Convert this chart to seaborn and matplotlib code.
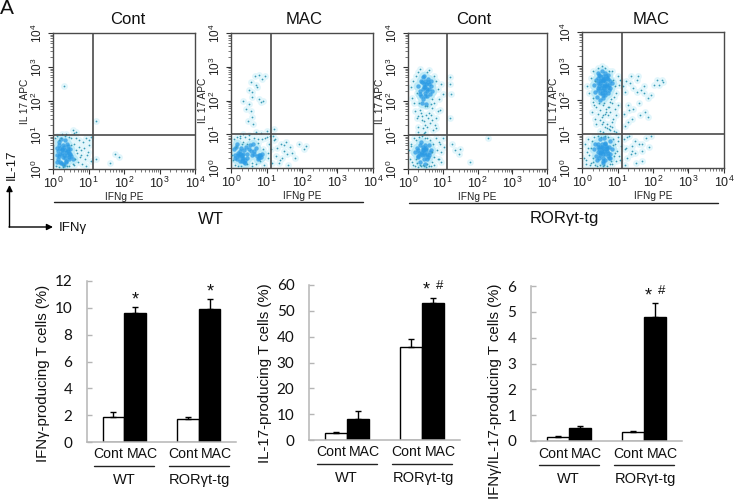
import numpy as np
import pandas as pd
import matplotlib
matplotlib.use("Agg")
import matplotlib.pyplot as plt
import seaborn as sns
from matplotlib.ticker import LogLocator, NullFormatter, FixedLocator, FixedFormatter

sns.set_theme(style="white")
plt.rcParams['font.family'] = ['Liberation Sans', 'DejaVu Sans']
plt.rcParams['mathtext.fontset'] = 'custom'
plt.rcParams['mathtext.rm'] = 'Liberation Sans'
plt.rcParams['mathtext.default'] = 'regular'

# ---- bar data ----
groups = ["WT", "RORγt-tg"]
treatments = ["Cont", "MAC"]
ifng_means = [1.85, 9.6, 1.7, 9.9]
ifng_errs = [0.35, 0.45, 0.15, 0.75]
il17_means = [2.8, 8.2, 36, 53]
il17_errs = [0.4, 3.2, 3, 2]
dual_means = [0.17, 0.52, 0.35, 4.8]
dual_errs = [0.04, 0.08, 0.05, 0.55]
ifng_ticks = [0, 2, 4, 6, 8, 10, 12]
il17_ticks = [0, 10, 20, 30, 40, 50, 60]
dual_ticks = [0, 1, 2, 3, 4, 5, 6]

# ---- flow data, in log10 decades ----
p1_core_x = [.10,.14,.18,.22,.26,.30,.34,.38,.42,.46,
             .12,.16,.20,.24,.28,.32,.36,.40,.44,.48,
             .11,.15,.19,.23,.27,.31,.35,.39,.43,.52,
             .17,.21,.25,.29,.33,.37,.41,.45,.49,.56]
p1_core_y = [.62,.30,.78,.18,.55,.40,.85,.25,.68,.48,
             .42,.70,.22,.60,.35,.12,.50,.75,.30,.58,
             .20,.52,.45,.88,.15,.65,.32,.42,.52,.38,
             .38,.62,.48,.72,.56,.20,.60,.36,.44,.28]
p1_dots_x = [.05,.08,.12,.16,.22,.28,.34,.40,.46,.52,
             .58,.62,.66,.70,.74,.78,.82,.86,.90,.94,
             .98,1.02,1.06,1.08,.60,.64,.72,.76,.84,.92,
             .55,.50,.44,.36,.30,.18,.68,.80,.96,1.00,
             .30,1.22,1.22,1.75,1.85,1.60,.55,.60,.25,.65]
p1_dots_y = [.90,.08,.96,.05,.92,.06,.98,.10,.08,.90,
             .75,.30,.55,.20,.85,.42,.15,.62,.30,.90,
             .50,.70,.25,.95,.12,.92,.65,.35,.80,.10,
             .15,.70,.95,1.03,.12,.85,.48,.55,.40,.85,
             2.45,1.40,.30,.45,.35,.18,1.15,1.05,1.02,1.10]

p2_core_x = [.08,.12,.16,.20,.24,.28,.32,.36,.40,.44,
             .10,.14,.18,.22,.26,.30,.34,.38,.42,.46,
             .50,.54,.58,.62,.66,.70,.74,.78,.82,.86,
             .30,.35,.40,.25,.20,.75,.80,.85,.55,.65]
p2_core_y = [.55,.30,.70,.45,.20,.60,.30,.52,.16,.42,
             .40,.62,.28,.35,.50,.22,.42,.18,.62,.30,
             .55,.68,.40,.72,.50,.60,.35,.30,.38,.42,
             .40,.30,.25,.42,.38,.28,.40,.32,.50,.42]
p2_dots_x = [.03,.05,.08,.12,.16,.20,.24,.28,.34,.40,
             .46,.52,.58,.64,.70,.76,.82,.88,.94,1.00,
             1.04,1.08,1.12,1.16,1.20,.15,.30,.45,.60,.75,
             .90,1.05,.25,.50,.95,1.10,.70,1.02,.35,.85,
             1.25,1.30,1.35,1.40,1.45,1.50,1.55,1.60,1.65,1.72,
             1.28,1.38,1.48,1.58,1.80,1.92,2.05,2.12,1.18,1.22,
             .55,.60,.68,.72,.80,.88,.58,.50,.35,.42,
             .52,.55,.62,.60,.85,.95,.78,.70,.48,.90]
p2_dots_y = [.40,.25,.85,.10,.92,.07,.88,.05,.78,.93,
             .12,.85,.05,.90,.12,.75,.20,.85,.08,.92,
             .30,.70,.55,.15,.82,.62,.70,.72,.15,.85,
             .55,.45,.96,.98,.90,.95,1.08,1.10,1.02,1.05,
             .85,.60,.15,.70,.30,.50,.78,.10,.62,.45,
             .35,.25,.68,.42,.30,.72,.55,.65,.95,1.15,
             2.55,2.25,2.72,2.40,2.75,2.65,2.10,1.90,2.00,1.75,
             2.30,1.70,1.30,1.50,1.95,2.72,2.05,2.45,1.40,2.00]

p3_core_x = [.20,.25,.30,.35,.40,.45,.50,.55,.60,.65,
             .28,.33,.38,.43,.48,.53,.58,.63,.35,.42,
             .46,.52,.40,.50,.56,.30,.36,.44,.60,.48,
             .30,.35,.40,.45,.50,.55,.60,.65,.70,.38,
             .42,.48,.52,.58,.62,.44,.50,.56,.36,.46,
             .54,.40,.60,.47,.52,.43,.57,.34,.49,.66]
p3_core_y = [.50,.62,.38,.70,.50,.28,.60,.45,.72,.55,
             .35,.48,.80,.55,.42,.62,.35,.50,.20,.65,
             .48,.55,.40,.72,.30,.55,.45,.60,.42,.15,
             2.45,2.30,2.55,2.40,2.60,2.35,2.50,2.45,2.30,2.15,
             2.70,2.25,2.50,2.65,2.20,2.05,2.40,2.15,2.60,2.50,
             2.30,1.95,2.35,2.75,1.90,2.35,2.55,2.20,2.15,2.60]
p3_dots_x = [.04,.08,.12,.16,.20,.24,.28,.32,.36,.40,
             .44,.48,.52,.56,.60,.64,.68,.72,.76,.80,
             .84,.88,.92,.96,1.00,1.04,.06,.15,.25,.35,
             .45,.55,.65,.75,.85,.95,.10,.22,.70,.90,
             .08,.12,.15,.18,.22,.26,.30,.85,.80,.75,
             .90,.95,1.00,.25,.35,.45,.55,.65,.75,.85,
             .30,.40,.50,.60,.70,.80,.32,.42,.52,.62,
             .72,.82,.20,.28,.38,.48,.58,.68,.78,.92,
             .35,.45,.55,.65,.50,.60,.40,.70,.30,.55,
             1.20,1.22,1.25,1.35,1.50,1.48,1.78,2.30,1.22,1.28]
p3_dots_y = [.55,.75,.20,.92,.10,.85,.05,.95,.08,.96,
             .12,.90,.05,.92,.10,.85,.20,.75,.35,.92,
             .55,.28,.75,.50,.92,.65,.30,.12,.18,.12,
             .08,.15,.10,.12,.30,.20,.68,.30,.50,.80,
             2.40,2.10,2.60,1.95,2.75,2.25,2.85,2.35,2.60,2.75,
             2.05,2.50,2.20,1.50,1.75,1.40,1.85,1.60,1.95,1.70,
             1.25,1.55,1.30,1.65,1.45,1.20,1.95,1.20,1.60,1.35,
             1.15,1.50,1.70,1.10,1.65,1.85,1.50,1.80,1.30,1.75,
             2.95,1.05,1.25,1.90,1.10,2.90,1.45,2.05,1.55,2.85,
             2.70,2.50,2.20,.55,.60,.45,.22,.90,1.50,.75]

p4_core_x = [.35,.40,.45,.50,.55,.60,.65,.70,.75,.80,
             .42,.48,.52,.58,.62,.68,.72,.78,.85,.38,
             .55,.60,.50,.65,.58,.62,.70,.45,.75,.52,
             .56,.64,.48,.68,.54,.66,.60,.72,.44,.80,
             .35,.40,.45,.50,.55,.60,.65,.70,.75,.80,
             .38,.44,.48,.54,.58,.64,.68,.74,.78,.84,
             .42,.46,.52,.56,.62,.66,.72,.76,.60,.50,
             .55,.65,.58,.62,.48,.70,.52,.68,.74,.44,
             .56,.60,.64,.54,.66,.50,.72,.58,.62,.46]
p4_core_y = [.55,.35,.70,.45,.62,.30,.75,.50,.62,.40,
             .25,.55,.85,.20,.50,.65,.35,.80,.55,.72,
             .50,.60,.38,.42,.15,.88,.58,.48,.28,.62,
             .72,.25,.30,.55,.48,.70,.40,.45,.62,.30,
             2.45,2.60,2.30,2.70,2.45,2.55,2.30,2.65,2.45,2.35,
             2.25,2.50,2.75,2.35,2.60,2.80,2.40,2.20,2.55,2.50,
             2.10,2.65,2.50,2.20,2.35,2.55,2.75,2.30,2.05,2.00,
             2.85,2.15,2.62,2.42,2.42,2.48,2.55,2.70,2.62,2.35,
             2.30,2.70,2.45,2.58,2.25,2.20,2.38,2.15,2.62,2.80]
p4_dots_x = [.05,.08,.10,.14,.18,.22,.26,.30,.34,.38,
             .42,.46,.50,.54,.58,.62,.66,.70,.74,.78,
             .82,.86,.90,.94,.98,1.02,1.06,1.10,.12,.16,
             .20,.24,.28,.32,.85,.88,.92,.96,1.00,1.05,
             .15,.20,.25,.30,.32,.35,.38,.85,.88,.92,
             .96,1.00,1.04,1.08,.28,.32,.36,.40,.44,.48,
             .52,.56,.60,.64,.68,.72,.76,.80,.84,.88,
             .92,.96,1.00,.40,.50,.60,.70,.80,.45,.55,
             .65,.75,.85,.58,.68,.78,.90,.72,.62,.82,
             .50,.60,.70,.80,.90,.55,.65,.75,.85,.95,
             1.15,1.18,1.20,1.22,1.25,1.28,1.30,1.35,1.40,1.45,
             1.50,1.55,1.60,1.65,1.70,1.75,1.80,1.85,1.90,1.95,
             2.02,2.10,2.25,2.28,1.18,1.22,1.28,1.32,1.38,1.45,
             1.52,1.60,1.75,1.95,2.18,1.20,1.25,1.32,1.40,1.48,
             1.55,1.62,1.70,1.78,1.85,1.30,1.42,1.58,1.68,1.38]
p4_dots_y = [.30,.72,.12,.48,.85,.08,.60,.18,.92,.10,
             .05,.95,.08,.92,.05,.10,.95,.05,.92,.12,
             .20,.85,.35,.70,.50,.90,.25,.65,.25,.60,
             .38,.15,.80,.30,.12,.68,.45,.20,.80,.35,
             2.40,2.20,2.65,2.05,2.85,1.85,2.55,2.85,2.60,2.40,
             2.20,2.70,2.45,2.60,1.65,1.95,1.45,1.80,1.60,1.90,
             1.70,1.50,1.85,1.60,1.75,1.55,1.80,1.65,1.90,1.45,
             1.75,1.55,1.85,1.30,1.40,1.35,1.30,1.25,2.95,3.00,
             2.95,2.85,1.35,1.55,1.65,1.95,2.10,1.80,1.92,2.02,
             1.10,1.05,1.18,1.12,1.08,1.30,1.22,1.15,1.20,1.05,
             2.40,.85,2.25,.55,2.55,.30,1.85,2.50,.65,2.35,
             .45,2.60,.72,2.30,.20,2.42,.88,1.50,.62,2.15,
             2.45,2.58,2.60,2.52,1.60,1.25,.92,1.70,.40,1.75,
             .15,1.90,2.20,.95,2.45,.10,.60,.95,1.45,.78,
             2.25,1.55,.50,1.65,2.05,1.35,.50,2.70,.70,2.72]

flow_titles = ["Cont", "MAC", "Cont", "MAC"]
gate_x = [1.13, 1.13, 1.12, 1.13]
gate_y = [1.0, 1.01, 1.01, 1.01]

W, H = 735, 499
fig = plt.figure(figsize=(W / 100, H / 100), dpi=100, facecolor="white")


def add_ax(x0, y0, x1, y1):
    return fig.add_axes([x0 / W, 1 - y1 / H, (x1 - x0) / W, (y1 - y0) / H])


def ftext(x, y, s, **kw):
    kw.setdefault("ha", "center")
    kw.setdefault("va", "center")
    kw.setdefault("color", "#111111")
    return fig.text(x / W, 1 - y / H, s, **kw)


def fline(x0, y0, x1, y1, **kw):
    fig.add_artist(plt.Line2D([x0 / W, x1 / W], [1 - y0 / H, 1 - y1 / H], transform=fig.transFigure, **kw))


flow_boxes = [(53, 33, 195, 169), (231, 33, 373, 168), (408, 33, 547, 169), (582, 32, 724, 168)]
flow_core = [(p1_core_x, p1_core_y), (p2_core_x, p2_core_y), (p3_core_x, p3_core_y), (p4_core_x, p4_core_y)]
flow_dots = [(p1_dots_x, p1_dots_y), (p2_dots_x, p2_dots_y), (p3_dots_x, p3_dots_y), (p4_dots_x, p4_dots_y)]
decades = [1, 10, 100, 1000, 10000]
dec_labels = ["$10^{0}$", "$10^{1}$", "$10^{2}$", "$10^{3}$", "$10^{4}$"]

for i, box in enumerate(flow_boxes):
    ax = add_ax(*box)
    cx, cy = (10 ** np.array(v) for v in flow_core[i])
    dx, dy = (10 ** np.array(v) for v in flow_dots[i])
    ax.set_xscale("log")
    ax.set_yscale("log")
    # pale halo, dense core, then individual dots
    sns.scatterplot(x=dx, y=dy, s=24, color="#e2f6fb", linewidth=0, ax=ax, zorder=1)
    sns.scatterplot(x=cx, y=cy, s=48, color="#bdeaf7", linewidth=0, ax=ax, zorder=1.5)
    sns.scatterplot(x=cx, y=cy, s=10, color="#2a9ae4", alpha=0.75, linewidth=0, ax=ax, zorder=2)
    sns.scatterplot(x=dx, y=dy, s=1.6, color="#3a9cb8", linewidth=0, ax=ax, zorder=3)
    ax.set_xlim(1, 1e4)
    ax.set_ylim(1, 1e4)
    ax.axvline(10 ** gate_x[i], color="#4a4a4a", lw=1.2, zorder=4)
    ax.axhline(10 ** gate_y[i], color="#4a4a4a", lw=1.2, zorder=4)
    for s in ax.spines.values():
        s.set_color("#4a4a4a")
        s.set_linewidth(1.0)
        s.set_visible(True)
    for axis in (ax.xaxis, ax.yaxis):
        axis.set_major_locator(FixedLocator(decades))
        axis.set_major_formatter(FixedFormatter(dec_labels))
        axis.set_minor_locator(LogLocator(base=10, subs=range(2, 10), numticks=10))
        axis.set_minor_formatter(NullFormatter())
    ax.tick_params(axis="x", which="major", length=3.5, width=0.8, color="#333333",
                   labelsize=9, labelcolor="#222222", bottom=True, pad=1.5)
    ax.tick_params(axis="y", which="major", length=3.5, width=0.8, color="#333333",
                   labelsize=8.5, labelcolor="#222222", left=True, pad=2)
    ax.tick_params(axis="both", which="minor", length=2, width=0.5, color="#444444", bottom=True, left=True)
    for t in ax.get_yticklabels():
        t.set_rotation(90)
        t.set_va("center")
    ax.set_xlabel("IFNg PE", fontsize=7.3, color="#222222", labelpad=0.8)
    ax.set_ylabel("IL 17 APC", fontsize=7.3, color="#222222")
    ax.yaxis.set_label_coords(-23 / (box[2] - box[0]), 0.5)
    ax.set_title("")

title_x = [128, 304, 474, 651]
for x, t in zip(title_x, flow_titles):
    ftext(x, 20, t, fontsize=12)

ftext(7, 9, "A", fontsize=15)
fline(54, 202, 363, 202, color="#222222", lw=1)
fline(409, 203, 718, 203, color="#222222", lw=1)
ftext(211, 219, groups[0], fontsize=12)
ftext(564, 219, groups[1], fontsize=12)
ftext(12, 165, "IL-17", fontsize=9.5, rotation=90)
ftext(73, 228, "IFNγ", fontsize=9.5)
fig.add_artist(matplotlib.patches.FancyArrowPatch(
    (9.5 / W, 1 - 227 / H), (9.5 / W, 1 - 185 / H), transform=fig.transFigure,
    arrowstyle="-|>", mutation_scale=9, color="black", lw=1, shrinkA=0, shrinkB=0))
fig.add_artist(matplotlib.patches.FancyArrowPatch(
    (9 / W, 1 - 227 / H), (53 / W, 1 - 227 / H), transform=fig.transFigure,
    arrowstyle="-|>", mutation_scale=9, color="black", lw=1, shrinkA=0, shrinkB=0))

# ---- bar panels ----
bar_boxes = [(87, 281, 236, 442), (309, 285, 460, 440), (531, 286, 682, 441)]
bar_means = [ifng_means, il17_means, dual_means]
bar_errs = [ifng_errs, il17_errs, dual_errs]
bar_ticks = [ifng_ticks, il17_ticks, dual_ticks]
bar_labels = ["IFNγ-producing T cells (%)", "IL-17-producing T cells (%)", "IFNγ/IL-17-producing T cells (%)"]
label_pos = [(43, 373), (265, 373), (495, 391)]
marks = [[(135, 297, "*"), (210, 289, "*")],
         [(426, 287, "*"), (440, 286, "#")],
         [(648, 293, "*"), (662, 291, "#")]]

for i, box in enumerate(bar_boxes):
    ax = add_ax(*box)
    df = pd.DataFrame({
        "group": [g for g in groups for _ in treatments],
        "treatment": treatments * len(groups),
        "value": bar_means[i],
    })
    sns.barplot(data=df, x="group", y="value", hue="treatment", order=groups, hue_order=treatments,
                palette=["white", "black"], edgecolor="black", linewidth=1, width=0.58, gap=0,
                saturation=1, errorbar=None, legend=False, ax=ax)
    ax.set_xlim(-0.5, 1.5)
    ax.set_ylim(0, bar_ticks[i][-1])
    patches = [c[j] for j in range(2) for c in ax.containers]
    for p, v, e in zip(patches, bar_means[i], bar_errs[i]):
        xc = p.get_x() + p.get_width() / 2
        ax.errorbar(xc, v, yerr=[[0], [e]], color="black", lw=1, capsize=2.5, capthick=1, zorder=5)
    sns.despine(ax=ax)
    for s in ("left", "bottom"):
        ax.spines[s].set_color("#b5b5b5")
        ax.spines[s].set_linewidth(1.1)
    ax.set_yticks(bar_ticks[i])
    ax.set_yticklabels([str(t) for t in bar_ticks[i]], family="Lato", fontsize=11, color="#111111")
    ax.tick_params(axis="y", direction="in", length=3.5, width=1, color="#b5b5b5", left=True, pad=10.5)
    ax.set_xticks([])
    ax.set_xlabel("")
    ax.set_ylabel("")
    x0 = box[0]
    wid = box[2] - box[0]
    base = box[3]
    for c, cname in zip((0.25, 0.75), groups):
        xc = x0 + c * wid
        ftext(xc - 16, base + 12.5, "Cont", fontsize=10.1)
        ftext(xc + 18, base + 12.5, "MAC", fontsize=10.1)
        fline(xc - 30, base + 24, xc + 30, base + 24, color="#222222", lw=1)
        ftext(xc + (0 if cname == "WT" else 1), base + 38, cname, fontsize=10.5)
    ftext(label_pos[i][0], label_pos[i][1], bar_labels[i], rotation=90, fontsize=10.8)
    for mx, my, m in marks[i]:
        ftext(mx, my + (3 if m == "*" else 0), m, fontsize=13 if m == "*" else 9.5)

fig.savefig("out.png", dpi=100, facecolor="white")
